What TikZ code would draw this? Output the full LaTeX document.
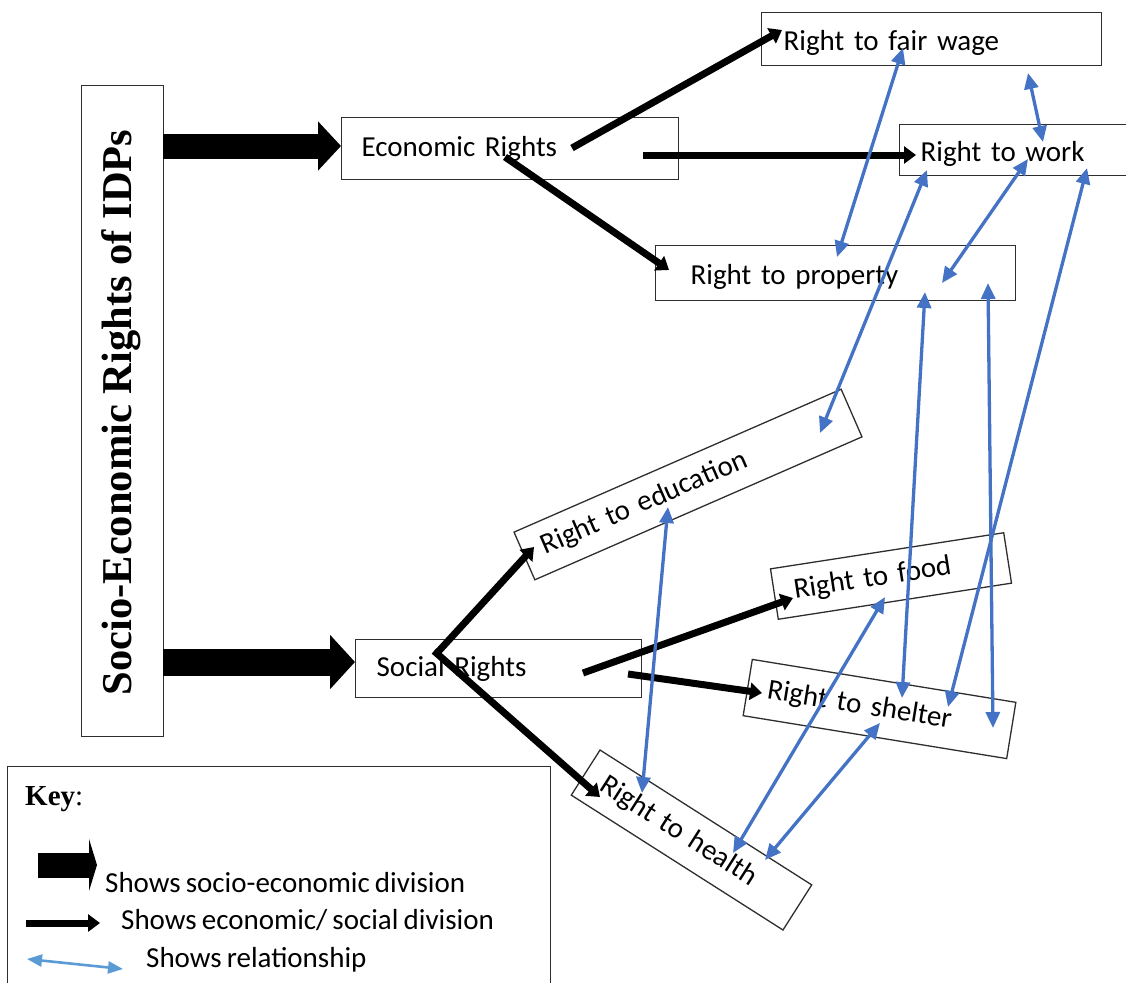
\documentclass[tikz,border=0pt]{standalone}
\usepackage{fontspec}
\setmainfont{Carlito}[WordSpace=0.78]
\newfontfamily\titlefont{Liberation Serif}
\usetikzlibrary{arrows.meta}
\definecolor{relblue}{HTML}{4472C4}
\definecolor{keyblue}{HTML}{5B9BD5}
\definecolor{boxline}{HTML}{2E2E2E}
\tikzset{
  box/.style={draw=boxline, line width=1.3pt, inner ysep=0pt, align=left,
    font=\fontsize{29}{34}\selectfont},
  conn/.style={line width=7pt, -{Triangle[length=12pt,width=17pt]}},
  rel/.style={draw=relblue, line width=3.3pt,
    {Triangle[length=16pt,width=14pt]}-{Triangle[length=16pt,width=14pt]}},
  keyrel/.style={draw=keyblue, line width=2.6pt,
    {Triangle[length=15pt,width=12pt]}-{Triangle[length=15pt,width=12pt]}},
  bigA/.style={line width=25pt, -{Triangle[length=23pt,width=48pt]}},
  bigB/.style={line width=27pt, -{Triangle[length=25pt,width=53pt]}},
  keytext/.style={anchor=west, inner sep=0pt, font=\fontsize{29}{34}\selectfont},
}
\newcommand{\lowered}[1]{\raisebox{-4pt}[\height][\depth]{#1}}
\begin{document}
\begin{tikzpicture}[x=1pt,y=-1pt]
\useasboundingbox (0,0) rectangle (1126,982);

% main title box
\node[draw=boxline, line width=1.3pt, minimum width=82pt, minimum height=651pt,
      inner sep=0pt, anchor=north west] (main) at (81,85) {};
\node[rotate=90, inner sep=0pt, font=\fontsize{42.5}{48}\titlefont\bfseries]
      (title) at (121.5,412.5) {Socio-Economic Rights of IDPs};

% straight boxes
\node[box, anchor=north west, inner xsep=20pt, text width=297pt, minimum height=62pt]
      (econ) at (341,117) {Economic Rights};
\node[box, anchor=north west, inner xsep=22pt, text width=296pt, minimum height=53pt]
      (wage) at (761,12) {\lowered{Right to fair wage}};
\node[box, anchor=north west, inner xsep=21pt, text width=198pt, minimum height=51pt]
      (work) at (899,124) {\lowered{Right to work}};
\node[box, anchor=north west, inner xsep=35pt, text width=290pt, minimum height=55pt]
      (prop) at (655,245) {\lowered{Right to property}};
\node[box, anchor=north west, inner xsep=21pt, text width=244pt, minimum height=58pt]
      (social) at (355,639) {Social Rights};

% rotated boxes
\node[box, rotate=23.6, inner xsep=20pt, text width=317pt, minimum height=52pt]
      (edu) at (688,484.5) {Right to education};
\node[box, rotate=8.8, inner xsep=20pt, text width=196pt, minimum height=51pt]
      (food) at (891,576) {Right to food};
\node[box, rotate=-9.25, inner xsep=20pt, text width=227pt, minimum height=57pt]
      (shelter) at (879.5,709) {Right to shelter};
\node[box, rotate=-32.5, inner xsep=20pt, text width=211pt, minimum height=53.5pt]
      (health) at (691.5,840) {Right to health};

% big arrows
\coordinate (b1s) at (163,146); \coordinate (b1t) at (341,146);
\coordinate (b2s) at (163,662); \coordinate (b2t) at (355,662);
\draw[bigA] (b1s) -- (b1t);
\draw[bigB] (b2s) -- (b2t);

% economic / social divisions
\coordinate (k1s) at (572,148); \coordinate (k1t) at (782,30);
\coordinate (k2s) at (643,155); \coordinate (k2t) at (916,155);
\coordinate (k3s) at (505,157); \coordinate (k3t) at (669,270);
\coordinate (s1s) at (437,653); \coordinate (s1t) at (534,547);
\coordinate (s2s) at (583,673); \coordinate (s2t) at (793,598);
\coordinate (s3s) at (628,674); \coordinate (s3t) at (762,693);
\coordinate (s4s) at (434,651); \coordinate (s4t) at (600,797);
\draw[conn] (k1s) -- (k1t);
\draw[conn] (k2s) -- (k2t);
\draw[conn] (k3s) -- (k3t);
\draw[conn] (s1s) -- (s1t);
\draw[conn] (s2s) -- (s2t);
\draw[conn] (s3s) -- (s3t);
\draw[conn] (s4s) -- (s4t);

% relationships
\coordinate (ra1) at (903,48);   \coordinate (ra2) at (837,257);
\coordinate (rb1) at (1028,73);  \coordinate (rb2) at (1043,142);
\coordinate (rc1) at (927,170);  \coordinate (rc2) at (820,433);
\coordinate (rd1) at (1028,159); \coordinate (rd2) at (942,283);
\coordinate (re1) at (1087,168); \coordinate (re2) at (948,707);
\coordinate (rf1) at (925,292);  \coordinate (rf2) at (902,698);
\coordinate (rg1) at (988,283);  \coordinate (rg2) at (993,728);
\coordinate (rh1) at (668,507);  \coordinate (rh2) at (642,793);
\coordinate (ri1) at (885,597);  \coordinate (ri2) at (733,853);
\coordinate (rj1) at (880,723);  \coordinate (rj2) at (765,860);
\draw[rel] (ra1) -- (ra2);
\draw[rel] (rb1) -- (rb2);
\draw[rel] (rc1) -- (rc2);
\draw[rel] (rd1) -- (rd2);
\draw[rel] (re1) -- (re2);
\draw[rel] (rf1) -- (rf2);
\draw[rel] (rg1) -- (rg2);
\draw[rel] (rh1) -- (rh2);
\draw[rel] (ri1) -- (ri2);
\draw[rel] (rj1) -- (rj2);

% key
\node[draw=boxline, line width=1.3pt, inner sep=0pt, minimum width=543pt,
      minimum height=240pt, anchor=north west] (key) at (7,766) {};
\node[anchor=west, inner sep=0pt, font=\fontsize{29}{34}\titlefont]
      (keyt) at (25,799) {\textbf{Key}:};
\coordinate (l1s) at (38,865); \coordinate (l1t) at (97,865);
\draw[line width=25pt, -{Triangle[length=8pt,width=52pt]}] (l1s) -- (l1t);
\node[keytext] (l1) at (105,883) {Shows socio-economic division};
\coordinate (l2s) at (26,923); \coordinate (l2t) at (100,923);
\draw[conn] (l2s) -- (l2t);
\node[keytext] (l2) at (121,920) {Shows economic/ social division};
\coordinate (l3s) at (27,959); \coordinate (l3t) at (123,969);
\draw[keyrel] (l3s) -- (l3t);
\node[keytext] (l3) at (146,960) {Shows relationship};
\end{tikzpicture}
\end{document}
